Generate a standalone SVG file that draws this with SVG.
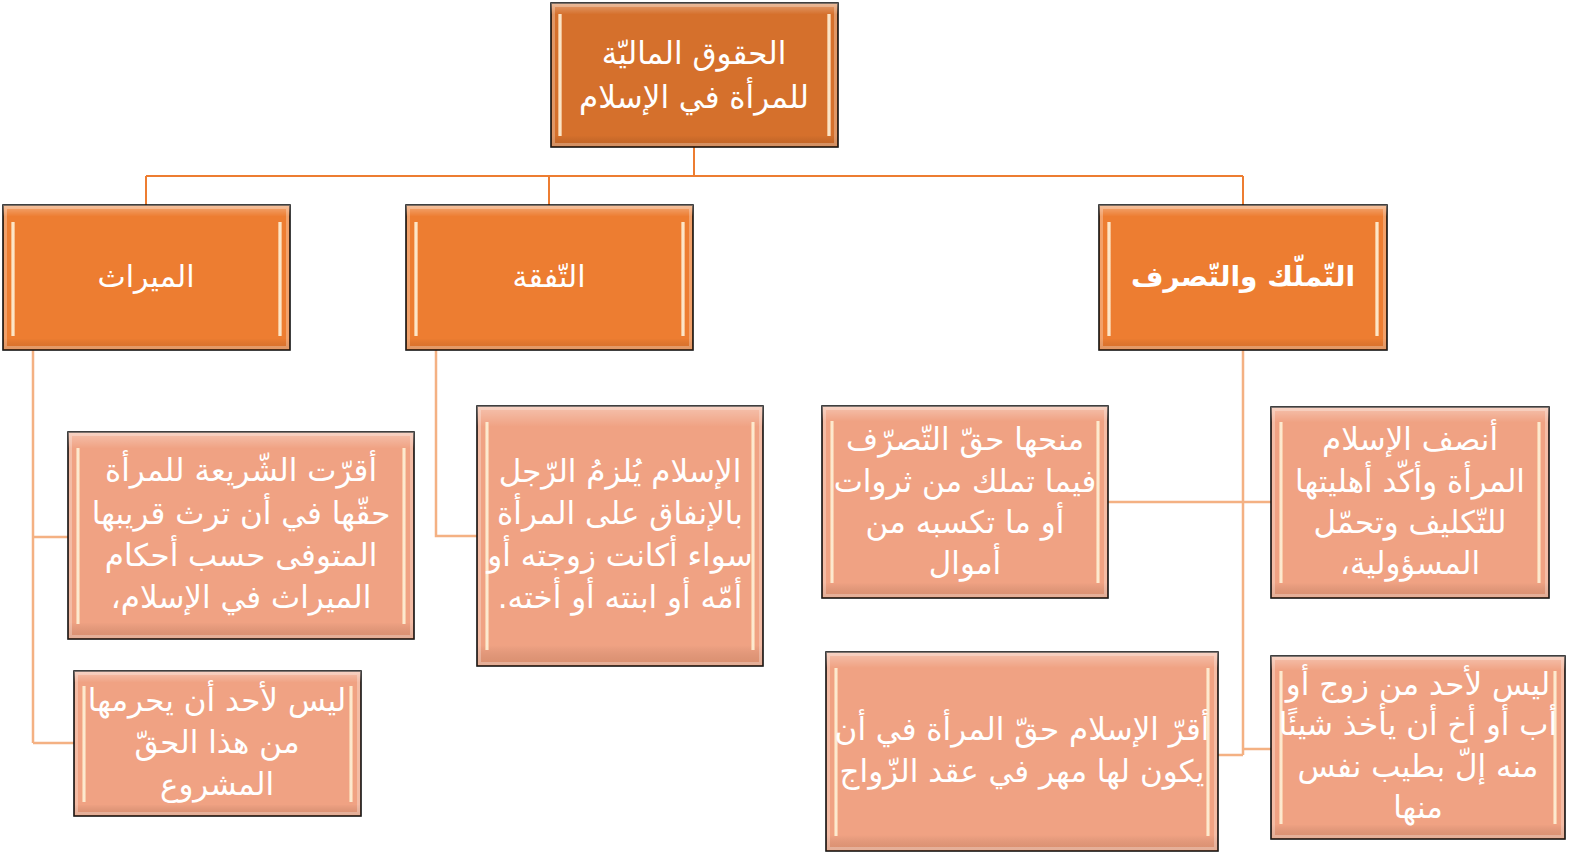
<svg xmlns="http://www.w3.org/2000/svg" width="1581" height="856" viewBox="0 0 1581 856">
<defs>
<linearGradient id="hl" x1="0" y1="0" x2="1" y2="0">
<stop offset="0" stop-color="#fbd2a8" stop-opacity="0.6"/>
<stop offset="0.5" stop-color="#fffbe8" stop-opacity="1"/>
<stop offset="1" stop-color="#fbd2a8" stop-opacity="0.6"/>
</linearGradient>
<linearGradient id="topband" x1="0" y1="0" x2="0" y2="1">
<stop offset="0" stop-color="#ffffff" stop-opacity="0.35"/>
<stop offset="0.08" stop-color="#ffffff" stop-opacity="0"/>
<stop offset="0.92" stop-color="#000000" stop-opacity="0"/>
<stop offset="1" stop-color="#7a3a10" stop-opacity="0.18"/>
</linearGradient>
</defs>
<style>
.box{stroke:#111;stroke-width:1.6}
.top{fill:#D5702C}
.l2{fill:#ED7D31}
.ch{fill:#F0A283}
.band{fill:url(#topband);stroke:none}
.edge{fill:none;stroke:#ffffff;stroke-opacity:0.28;stroke-width:3}
.hl{fill:url(#hl)}
.t{font-family:"DejaVu Sans",sans-serif;fill:#ffffff;text-anchor:middle;dominant-baseline:central;direction:rtl;font-size:31px}
.c1{fill:none;stroke:#ED7D31;stroke-width:2}
.c2{fill:none;stroke:#F4B183;stroke-width:2.5}
</style>

<g id="connectors">
<path class="c1" d="M694 147 V176 M146 176 H1243 M146 176 V205 M549 176 V205 M1243 176 V205"/>
<path class="c2" d="M33 350 V743 M33 537 H68 M33 743 H74"/>
<path class="c2" d="M436 350 V536 H477"/>
<path class="c2" d="M1243 350 V755 M1108 502 H1271 M1218 755 H1243 M1243 749 H1271"/>
</g>

<g id="root">
<rect class="box top" x="551" y="3" width="287" height="144"/>
<rect class="band" x="551" y="3" width="287" height="144"/>
<rect class="edge" x="553.5" y="5.5" width="282" height="139"/>
<rect class="hl" x="558" y="14" width="4" height="122"/>
<rect class="hl" x="827" y="14" width="4" height="122"/>
<text class="t" x="694" y="53">الحقوق الماليّة</text>
<text class="t" x="694" y="97">للمرأة في الإسلام</text>
</g>

<g id="n-miras">
<rect class="box l2" x="3" y="205" width="287" height="145"/>
<rect class="band" x="3" y="205" width="287" height="145"/>
<rect class="edge" x="5.5" y="207.5" width="282" height="140"/>
<rect class="hl" x="11" y="222" width="4" height="114"/>
<rect class="hl" x="278" y="222" width="4" height="114"/>
<text class="t" x="146" y="276" style="font-size:30px">الميراث</text>
</g>

<g id="n-nafaqa">
<rect class="box l2" x="406" y="205" width="287" height="145"/>
<rect class="band" x="406" y="205" width="287" height="145"/>
<rect class="edge" x="408.5" y="207.5" width="282" height="140"/>
<rect class="hl" x="414" y="222" width="4" height="114"/>
<rect class="hl" x="681" y="222" width="4" height="114"/>
<text class="t" x="549" y="276" style="font-size:30px">التّفقة</text>
</g>

<g id="n-tamalluk">
<rect class="box l2" x="1099" y="205" width="288" height="145"/>
<rect class="band" x="1099" y="205" width="288" height="145"/>
<rect class="edge" x="1101.5" y="207.5" width="283" height="140"/>
<rect class="hl" x="1107" y="222" width="4" height="114"/>
<rect class="hl" x="1375" y="222" width="4" height="114"/>
<text class="t" x="1243" y="276" style="font-size:28px" font-weight="bold">التّملّك والتّصرف</text>
</g>

<g id="c-miras-1">
<rect class="box ch" x="68" y="432" width="346" height="207"/>
<rect class="band" x="68" y="432" width="346" height="207"/>
<rect class="edge" x="70.5" y="434.5" width="341" height="202"/>
<rect class="hl" x="76" y="448" width="4" height="176"/>
<rect class="hl" x="402" y="448" width="4" height="176"/>
<text class="t" x="241" y="470">أقرّت الشّريعة للمرأة</text>
<text class="t" x="241" y="513">حقّها في أن ترث قريبها</text>
<text class="t" x="241" y="555">المتوفى حسب أحكام</text>
<text class="t" x="241" y="597">الميراث في الإسلام،</text>
</g>

<g id="c-miras-2">
<rect class="box ch" x="74" y="671" width="287" height="145"/>
<rect class="band" x="74" y="671" width="287" height="145"/>
<rect class="edge" x="76.5" y="673.5" width="282" height="140"/>
<rect class="hl" x="82" y="686" width="4" height="116"/>
<rect class="hl" x="349" y="686" width="4" height="116"/>
<text class="t" x="217" y="700">ليس لأحد أن يحرمها</text>
<text class="t" x="217" y="742">من هذا الحقّ</text>
<text class="t" x="217" y="784">المشروع</text>
</g>

<g id="c-nafaqa">
<rect class="box ch" x="477" y="406" width="286" height="260"/>
<rect class="band" x="477" y="406" width="286" height="260"/>
<rect class="edge" x="479.5" y="408.5" width="281" height="255"/>
<rect class="hl" x="485" y="422" width="4" height="228"/>
<rect class="hl" x="751" y="422" width="4" height="228"/>
<text class="t" x="620" y="471">الإسلام يُلزمُ الرّجل</text>
<text class="t" x="620" y="513">بالإنفاق على المرأة</text>
<text class="t" x="620" y="555">سواء أكانت زوجته أو</text>
<text class="t" x="620" y="597">أمّه أو ابنته أو أخته.</text>
</g>

<g id="c-tasarruf">
<rect class="box ch" x="822" y="406" width="286" height="192"/>
<rect class="band" x="822" y="406" width="286" height="192"/>
<rect class="edge" x="824.5" y="408.5" width="281" height="187"/>
<rect class="hl" x="830" y="421" width="4" height="162"/>
<rect class="hl" x="1096" y="421" width="4" height="162"/>
<text class="t" x="965" y="439">منحها حقّ التّصرّف</text>
<text class="t" x="965" y="481">فيما تملك من ثروات</text>
<text class="t" x="965" y="522">أو ما تكسبه من</text>
<text class="t" x="965" y="563">أموال</text>
</g>

<g id="c-insaf">
<rect class="box ch" x="1271" y="407" width="278" height="191"/>
<rect class="band" x="1271" y="407" width="278" height="191"/>
<rect class="edge" x="1273.5" y="409.5" width="273" height="186"/>
<rect class="hl" x="1279" y="422" width="4" height="161"/>
<rect class="hl" x="1537" y="422" width="4" height="161"/>
<text class="t" x="1410" y="439">أنصف الإسلام</text>
<text class="t" x="1410" y="481">المرأة وأكّد أهليتها</text>
<text class="t" x="1410" y="522">للتّكليف وتحمّل</text>
<text class="t" x="1410" y="563">المسؤولية،</text>
</g>

<g id="c-mahr">
<rect class="box ch" x="826" y="652" width="392" height="199"/>
<rect class="band" x="826" y="652" width="392" height="199"/>
<rect class="edge" x="828.5" y="654.5" width="387" height="194"/>
<rect class="hl" x="834" y="668" width="4" height="168"/>
<rect class="hl" x="1206" y="668" width="4" height="168"/>
<text class="t" x="1022" y="729">أقرّ الإسلام حقّ المرأة في أن</text>
<text class="t" x="1022" y="771">يكون لها مهر في عقد الزّواج</text>
</g>

<g id="c-akhdh">
<rect class="box ch" x="1271" y="656" width="294" height="183"/>
<rect class="band" x="1271" y="656" width="294" height="183"/>
<rect class="edge" x="1273.5" y="658.5" width="289" height="178"/>
<rect class="hl" x="1279" y="671" width="4" height="153"/>
<rect class="hl" x="1553" y="671" width="4" height="153"/>
<text class="t" x="1418" y="684">ليس لأحد من زوج أو</text>
<text class="t" x="1418" y="724">أب أو أخ أن يأخذ شيئًا</text>
<text class="t" x="1418" y="766">منه إلّ بطيب نفس</text>
<text class="t" x="1418" y="807">منها</text>
</g>
</svg>
